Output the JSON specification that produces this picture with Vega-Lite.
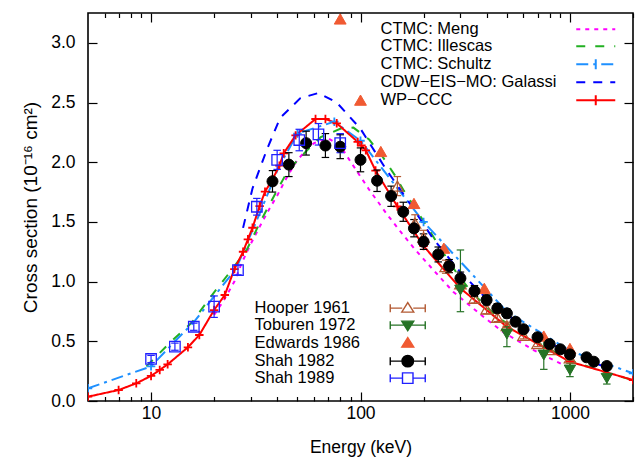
{
  "$schema": "https://vega.github.io/schema/vega-lite/v6.json",
  "width": 545,
  "height": 388,
  "autosize": "none",
  "padding": {"left": 88, "top": 13, "right": 2, "bottom": 60},
  "background": "white",
  "config": {
    "view": {"stroke": "black", "strokeWidth": 1.6},
    "font": "Liberation Sans",
    "axis": {"grid": false, "domain": false, "tickColor": "black", "tickWidth": 1.2, "labelColor": "black", "titleColor": "black", "labelFont": "Liberation Sans", "titleFont": "Liberation Sans", "labelFontSize": 17.5, "titleFontSize": 17.5, "titleFontWeight": "normal", "labelOverlap": false, "labelFlush": false},
    "legend": {"labelFont": "Liberation Sans", "labelFontSize": 16.5, "labelColor": "black", "padding": 0, "labelLimit": 400}
  },
  "datasets": {
    "theory": [
      {"m": "CTMC: Meng", "E": 20, "s": 0.72}, {"m": "CTMC: Meng", "E": 22, "s": 0.83}, {"m": "CTMC: Meng", "E": 25, "s": 1.0}, {"m": "CTMC: Meng", "E": 27, "s": 1.15}, {"m": "CTMC: Meng", "E": 30, "s": 1.32}, {"m": "CTMC: Meng", "E": 33, "s": 1.46}, {"m": "CTMC: Meng", "E": 37, "s": 1.62}, {"m": "CTMC: Meng", "E": 40, "s": 1.72}, {"m": "CTMC: Meng", "E": 45, "s": 1.89}, {"m": "CTMC: Meng", "E": 50, "s": 2.02}, {"m": "CTMC: Meng", "E": 55, "s": 2.1}, {"m": "CTMC: Meng", "E": 60, "s": 2.16}, {"m": "CTMC: Meng", "E": 70, "s": 2.2}, {"m": "CTMC: Meng", "E": 80, "s": 2.14}, {"m": "CTMC: Meng", "E": 90, "s": 2.0}, {"m": "CTMC: Meng", "E": 100, "s": 1.88}, {"m": "CTMC: Meng", "E": 110, "s": 1.77}, {"m": "CTMC: Meng", "E": 133, "s": 1.57}, {"m": "CTMC: Meng", "E": 155, "s": 1.42}, {"m": "CTMC: Meng", "E": 180, "s": 1.28}, {"m": "CTMC: Meng", "E": 222, "s": 1.1}, {"m": "CTMC: Meng", "E": 277, "s": 0.915}, {"m": "CTMC: Meng", "E": 386, "s": 0.706}, {"m": "CTMC: Meng", "E": 482, "s": 0.575}, {"m": "CTMC: Meng", "E": 670, "s": 0.427}, {"m": "CTMC: Meng", "E": 1000, "s": 0.275},
      {"m": "CTMC: Illescas", "E": 9.5, "s": 0.29}, {"m": "CTMC: Illescas", "E": 12.5, "s": 0.5}, {"m": "CTMC: Illescas", "E": 15.7, "s": 0.66}, {"m": "CTMC: Illescas", "E": 20, "s": 0.91}, {"m": "CTMC: Illescas", "E": 24.3, "s": 1.1}, {"m": "CTMC: Illescas", "E": 28.7, "s": 1.27}, {"m": "CTMC: Illescas", "E": 33, "s": 1.49}, {"m": "CTMC: Illescas", "E": 37, "s": 1.655}, {"m": "CTMC: Illescas", "E": 45, "s": 1.93}, {"m": "CTMC: Illescas", "E": 55.6, "s": 2.1}, {"m": "CTMC: Illescas", "E": 64.6, "s": 2.21}, {"m": "CTMC: Illescas", "E": 80, "s": 2.28}, {"m": "CTMC: Illescas", "E": 92.5, "s": 2.29}, {"m": "CTMC: Illescas", "E": 110, "s": 2.19}, {"m": "CTMC: Illescas", "E": 126, "s": 2.06}, {"m": "CTMC: Illescas", "E": 146, "s": 1.89}, {"m": "CTMC: Illescas", "E": 160, "s": 1.77}, {"m": "CTMC: Illescas", "E": 208, "s": 1.46}, {"m": "CTMC: Illescas", "E": 270, "s": 1.14}, {"m": "CTMC: Illescas", "E": 337, "s": 0.915}, {"m": "CTMC: Illescas", "E": 448, "s": 0.706}, {"m": "CTMC: Illescas", "E": 670, "s": 0.51}, {"m": "CTMC: Illescas", "E": 1000, "s": 0.34}, {"m": "CTMC: Illescas", "E": 1500, "s": 0.235}, {"m": "CTMC: Illescas", "E": 2000, "s": 0.175},
      {"m": "CTMC: Schultz", "E": 5, "s": 0.106}, {"m": "CTMC: Schultz", "E": 10, "s": 0.29}, {"m": "CTMC: Schultz", "E": 13, "s": 0.5}, {"m": "CTMC: Schultz", "E": 16, "s": 0.66}, {"m": "CTMC: Schultz", "E": 20.5, "s": 0.9}, {"m": "CTMC: Schultz", "E": 25.5, "s": 1.11}, {"m": "CTMC: Schultz", "E": 33, "s": 1.57}, {"m": "CTMC: Schultz", "E": 40.5, "s": 1.95}, {"m": "CTMC: Schultz", "E": 50, "s": 2.24}, {"m": "CTMC: Schultz", "E": 75, "s": 2.34}, {"m": "CTMC: Schultz", "E": 100, "s": 2.18}, {"m": "CTMC: Schultz", "E": 200, "s": 1.5}, {"m": "CTMC: Schultz", "E": 500, "s": 0.748}, {"m": "CTMC: Schultz", "E": 1000, "s": 0.42}, {"m": "CTMC: Schultz", "E": 2000, "s": 0.232},
      {"m": "CDW−EIS−MO: Galassi", "E": 27.5, "s": 1.45}, {"m": "CDW−EIS−MO: Galassi", "E": 30.5, "s": 1.78}, {"m": "CDW−EIS−MO: Galassi", "E": 35.8, "s": 2.11}, {"m": "CDW−EIS−MO: Galassi", "E": 41.3, "s": 2.37}, {"m": "CDW−EIS−MO: Galassi", "E": 51.5, "s": 2.535}, {"m": "CDW−EIS−MO: Galassi", "E": 63, "s": 2.58}, {"m": "CDW−EIS−MO: Galassi", "E": 77, "s": 2.5}, {"m": "CDW−EIS−MO: Galassi", "E": 100, "s": 2.28}, {"m": "CDW−EIS−MO: Galassi", "E": 133, "s": 1.935}, {"m": "CDW−EIS−MO: Galassi", "E": 155, "s": 1.77}, {"m": "CDW−EIS−MO: Galassi", "E": 172, "s": 1.655}, {"m": "CDW−EIS−MO: Galassi", "E": 222, "s": 1.36}, {"m": "CDW−EIS−MO: Galassi", "E": 294, "s": 1.097}, {"m": "CDW−EIS−MO: Galassi", "E": 404, "s": 0.846}, {"m": "CDW−EIS−MO: Galassi", "E": 696, "s": 0.54}, {"m": "CDW−EIS−MO: Galassi", "E": 1090, "s": 0.37}, {"m": "CDW−EIS−MO: Galassi", "E": 1500, "s": 0.28},
      {"m": "WP−CCC", "E": 5, "s": 0.036}, {"m": "WP−CCC", "E": 7, "s": 0.092}, {"m": "WP−CCC", "E": 8.5, "s": 0.148}, {"m": "WP−CCC", "E": 10, "s": 0.21}, {"m": "WP−CCC", "E": 11, "s": 0.26}, {"m": "WP−CCC", "E": 12, "s": 0.307}, {"m": "WP−CCC", "E": 15, "s": 0.45}, {"m": "WP−CCC", "E": 17, "s": 0.553}, {"m": "WP−CCC", "E": 20, "s": 0.762}, {"m": "WP−CCC", "E": 22.5, "s": 0.888}, {"m": "WP−CCC", "E": 25, "s": 1.105}, {"m": "WP−CCC", "E": 27.5, "s": 1.25}, {"m": "WP−CCC", "E": 29, "s": 1.354}, {"m": "WP−CCC", "E": 30.5, "s": 1.451}, {"m": "WP−CCC", "E": 33, "s": 1.633}, {"m": "WP−CCC", "E": 35, "s": 1.753}, {"m": "WP−CCC", "E": 38, "s": 1.857}, {"m": "WP−CCC", "E": 41, "s": 1.971}, {"m": "WP−CCC", "E": 43, "s": 2.075}, {"m": "WP−CCC", "E": 49, "s": 2.225}, {"m": "WP−CCC", "E": 61, "s": 2.362}, {"m": "WP−CCC", "E": 68, "s": 2.362}, {"m": "WP−CCC", "E": 77, "s": 2.326}, {"m": "WP−CCC", "E": 97, "s": 2.17}, {"m": "WP−CCC", "E": 101, "s": 2.14}, {"m": "WP−CCC", "E": 106, "s": 2.1}, {"m": "WP−CCC", "E": 118, "s": 1.93}, {"m": "WP−CCC", "E": 150, "s": 1.63}, {"m": "WP−CCC", "E": 200, "s": 1.298}, {"m": "WP−CCC", "E": 300, "s": 0.944}, {"m": "WP−CCC", "E": 500, "s": 0.622}, {"m": "WP−CCC", "E": 1000, "s": 0.329}, {"m": "WP−CCC", "E": 2000, "s": 0.176}
    ],
    "exp": [
      {"src": "Hooper 1961", "E": 150, "s": 1.8, "lo": 1.72, "hi": 1.88}, {"src": "Hooper 1961", "E": 182, "s": 1.49, "lo": 1.42, "hi": 1.56}, {"src": "Hooper 1961", "E": 200, "s": 1.37, "lo": 1.31, "hi": 1.43}, {"src": "Hooper 1961", "E": 255, "s": 1.125, "lo": 1.07, "hi": 1.18}, {"src": "Hooper 1961", "E": 300, "s": 0.98, "lo": 0.93, "hi": 1.03}, {"src": "Hooper 1961", "E": 350, "s": 0.86, "lo": 0.82, "hi": 0.9}, {"src": "Hooper 1961", "E": 400, "s": 0.77, "lo": 0.73, "hi": 0.81}, {"src": "Hooper 1961", "E": 450, "s": 0.7, "lo": 0.665, "hi": 0.735}, {"src": "Hooper 1961", "E": 500, "s": 0.63, "lo": 0.6, "hi": 0.66}, {"src": "Hooper 1961", "E": 600, "s": 0.55, "lo": 0.52, "hi": 0.58}, {"src": "Hooper 1961", "E": 700, "s": 0.48, "lo": 0.455, "hi": 0.505}, {"src": "Hooper 1961", "E": 800, "s": 0.43, "lo": 0.41, "hi": 0.45}, {"src": "Hooper 1961", "E": 1000, "s": 0.36, "lo": 0.34, "hi": 0.38},
      {"src": "Toburen 1972", "E": 300, "s": 0.93, "lo": 0.748, "hi": 1.265}, {"src": "Toburen 1972", "E": 500, "s": 0.561, "lo": 0.455, "hi": 0.622}, {"src": "Toburen 1972", "E": 750, "s": 0.385, "lo": 0.265, "hi": 0.511}, {"src": "Toburen 1972", "E": 1000, "s": 0.26, "lo": 0.204, "hi": 0.316}, {"src": "Toburen 1972", "E": 1500, "s": 0.19, "lo": 0.142, "hi": 0.218},
      {"src": "Edwards 1986", "E": 80, "s": 3.2}, {"src": "Edwards 1986", "E": 100, "s": 2.52}, {"src": "Edwards 1986", "E": 125, "s": 2.09}, {"src": "Edwards 1986", "E": 180, "s": 1.655}, {"src": "Edwards 1986", "E": 250, "s": 1.28}, {"src": "Edwards 1986", "E": 390, "s": 0.944}, {"src": "Edwards 1986", "E": 750, "s": 0.544}, {"src": "Edwards 1986", "E": 1000, "s": 0.44},
      {"src": "Shah 1982", "E": 38, "s": 1.84, "lo": 1.75, "hi": 1.93}, {"src": "Shah 1982", "E": 45.5, "s": 1.98, "lo": 1.88, "hi": 2.08}, {"src": "Shah 1982", "E": 55, "s": 2.16, "lo": 2.06, "hi": 2.26}, {"src": "Shah 1982", "E": 68, "s": 2.14, "lo": 2.04, "hi": 2.24}, {"src": "Shah 1982", "E": 80, "s": 2.13, "lo": 2.03, "hi": 2.23}, {"src": "Shah 1982", "E": 100, "s": 2.02, "lo": 1.92, "hi": 2.12}, {"src": "Shah 1982", "E": 120, "s": 1.845, "lo": 1.755, "hi": 1.935}, {"src": "Shah 1982", "E": 140, "s": 1.717, "lo": 1.63, "hi": 1.8}, {"src": "Shah 1982", "E": 160, "s": 1.585, "lo": 1.505, "hi": 1.665}, {"src": "Shah 1982", "E": 180, "s": 1.446, "lo": 1.375, "hi": 1.52}, {"src": "Shah 1982", "E": 200, "s": 1.334, "lo": 1.27, "hi": 1.4}, {"src": "Shah 1982", "E": 235, "s": 1.228, "lo": 1.165, "hi": 1.29}, {"src": "Shah 1982", "E": 265, "s": 1.13, "lo": 1.075, "hi": 1.185}, {"src": "Shah 1982", "E": 300, "s": 1.028, "lo": 0.975, "hi": 1.08}, {"src": "Shah 1982", "E": 350, "s": 0.921, "lo": 0.875, "hi": 0.967}, {"src": "Shah 1982", "E": 400, "s": 0.846, "lo": 0.804, "hi": 0.888}, {"src": "Shah 1982", "E": 450, "s": 0.776, "lo": 0.737, "hi": 0.815}, {"src": "Shah 1982", "E": 500, "s": 0.734, "lo": 0.697, "hi": 0.771}, {"src": "Shah 1982", "E": 550, "s": 0.664, "lo": 0.631, "hi": 0.697}, {"src": "Shah 1982", "E": 600, "s": 0.601, "lo": 0.571, "hi": 0.631}, {"src": "Shah 1982", "E": 700, "s": 0.534, "lo": 0.507, "hi": 0.561}, {"src": "Shah 1982", "E": 800, "s": 0.477, "lo": 0.453, "hi": 0.501}, {"src": "Shah 1982", "E": 900, "s": 0.433, "lo": 0.411, "hi": 0.455}, {"src": "Shah 1982", "E": 1000, "s": 0.39, "lo": 0.37, "hi": 0.41}, {"src": "Shah 1982", "E": 1200, "s": 0.366, "lo": 0.348, "hi": 0.384}, {"src": "Shah 1982", "E": 1300, "s": 0.329, "lo": 0.313, "hi": 0.345}, {"src": "Shah 1982", "E": 1500, "s": 0.293, "lo": 0.278, "hi": 0.308},
      {"src": "Shah 1989", "E": 10, "s": 0.352, "lo": 0.322, "hi": 0.382}, {"src": "Shah 1989", "E": 13, "s": 0.455, "lo": 0.425, "hi": 0.485}, {"src": "Shah 1989", "E": 16, "s": 0.622, "lo": 0.592, "hi": 0.652}, {"src": "Shah 1989", "E": 20, "s": 0.79, "lo": 0.7, "hi": 0.88}, {"src": "Shah 1989", "E": 26, "s": 1.097, "lo": 1.057, "hi": 1.137}, {"src": "Shah 1989", "E": 32, "s": 1.627, "lo": 1.557, "hi": 1.697}, {"src": "Shah 1989", "E": 40, "s": 2.02, "lo": 1.94, "hi": 2.1}, {"src": "Shah 1989", "E": 51, "s": 2.186, "lo": 2.096, "hi": 2.276}, {"src": "Shah 1989", "E": 63, "s": 2.234, "lo": 2.144, "hi": 2.324}, {"src": "Shah 1989", "E": 80, "s": 2.16, "lo": 2.08, "hi": 2.24}
    ]
  },
  "layer": [
    {
      "data": {"name": "theory"},
      "mark": {"type": "line", "strokeWidth": 2, "clip": true},
      "encoding": {
        "x": {"field": "E", "type": "quantitative", "scale": {"type": "log", "domain": [5, 2000], "nice": false},
          "axis": {"orient": "bottom", "title": "Energy (keV)", "values": [6, 7, 8, 9, 10, 20, 30, 40, 50, 60, 70, 80, 90, 100, 200, 300, 400, 500, 600, 700, 800, 900, 1000, 2000], "format": "d",
            "labelExpr": "indexof([10, 100, 1000], datum.value) >= 0 ? datum.label : ''",
            "tickSize": {"condition": {"test": "indexof([10, 100, 1000], datum.value) >= 0", "value": -9}, "value": -4.5},
            "labelPadding": 12, "titlePadding": 12}},
        "y": {"field": "s", "type": "quantitative", "scale": {"domain": [0, 3.25], "nice": false, "zero": false},
          "axis": {"orient": "left", "title": "Cross section (10⁻¹⁶ cm²)", "titleFontSize": 19, "values": [0, 0.5, 1, 1.5, 2, 2.5, 3], "format": ".1f", "tickSize": -9, "labelPadding": 22, "titlePadding": 10}},
        "color": {"field": "m", "type": "nominal",
          "scale": {"domain": ["CTMC: Meng", "CTMC: Illescas", "CTMC: Schultz", "CDW−EIS−MO: Galassi", "WP−CCC"], "range": ["#ff00ff", "#22b022", "#1e90ff", "#0000ff", "#ff0000"]},
          "legend": {"orient": "none", "legendX": 499.5, "legendY": 7.9, "title": null, "symbolSize": 100, "symbolStrokeWidth": 2, "labelOffset": -223.5, "rowPadding": 0,
            "encode": {"symbols": {"update": {"shape": {"signal": "datum.value === 'CTMC: Schultz' || datum.value === 'WP−CCC' ? 'M-3.9,0H3.9M0,-1V1' : 'M-3.9,0H3.9'"}}}}}},
        "strokeDash": {"field": "m", "type": "nominal",
          "scale": {"domain": ["CTMC: Meng", "CTMC: Illescas", "CTMC: Schultz", "CDW−EIS−MO: Galassi", "WP−CCC"], "range": [[4, 5], [9, 10], [12, 5, 3, 5], [9, 8], [1, 0]]}}
      }
    },
    {
      "data": {"name": "theory"},
      "transform": [{"filter": "datum.m === 'WP−CCC' || (datum.m === 'CTMC: Schultz' && indexof([5, 10, 50, 75, 100, 200, 500, 1000, 2000], datum.E) >= 0)"}],
      "mark": {"type": "point", "shape": "M-1,0H1M0,-1V1", "size": 72, "strokeWidth": 1.8, "filled": false, "clip": true, "opacity": 1},
      "encoding": {
        "x": {"field": "E", "type": "quantitative", "scale": {"type": "log", "domain": [5, 2000], "nice": false},
          "axis": {"orient": "top", "title": null, "labels": false, "values": [6, 7, 8, 9, 10, 20, 30, 40, 50, 60, 70, 80, 90, 100, 200, 300, 400, 500, 600, 700, 800, 900, 1000, 2000],
            "tickSize": {"condition": {"test": "indexof([10, 100, 1000], datum.value) >= 0", "value": -9}, "value": -4.5}}},
        "y": {"field": "s", "type": "quantitative", "scale": {"domain": [0, 3.25], "nice": false, "zero": false},
          "axis": {"orient": "right", "title": null, "labels": false, "values": [0, 0.5, 1, 1.5, 2, 2.5, 3], "tickSize": -9}},
        "color": {"field": "m", "type": "nominal"}
      }
    },
    {
      "data": {"name": "exp"},
      "transform": [{"filter": "isValid(datum.lo)"}],
      "mark": {"type": "rule", "strokeWidth": 1.2, "clip": true},
      "encoding": {
        "x": {"field": "E", "type": "quantitative", "scale": {"type": "log", "domain": [5, 2000], "nice": false}, "axis": null},
        "y": {"field": "lo", "type": "quantitative", "scale": {"domain": [0, 3.25], "nice": false, "zero": false}, "axis": null},
        "y2": {"field": "hi"},
        "stroke": {"field": "src", "type": "nominal",
          "scale": {"domain": ["Hooper 1961", "Toburen 1972", "Edwards 1986", "Shah 1982", "Shah 1989"], "range": ["#b35a33", "#267326", "#f05a32", "#000000", "#2020ff"]},
          "legend": {"orient": "none", "legendX": 311.5, "legendY": 286.9, "title": null, "symbolSize": 100, "symbolStrokeWidth": 1.4, "labelOffset": -161.5, "rowPadding": 0,
            "encode": {"symbols": {"update": {
              "shape": {"signal": "datum.value === 'Hooper 1961' ? 'M-3.5,0H-1.1M1.1,0H3.5M-3.5,-0.8V0.8M3.5,-0.8V0.8M-1.2,0.8L0,-1.1L1.2,0.8Z' : datum.value === 'Toburen 1972' ? 'M-3.5,0H3.5M-3.5,-0.8V0.8M3.5,-0.8V0.8M-1.2,-0.8L1.2,-0.8L0,1.1Z' : datum.value === 'Edwards 1986' ? 'M-1.2,0.8L0,-1.1L1.2,0.8Z' : datum.value === 'Shah 1982' ? 'M-3.5,0H3.5M-3.5,-0.8V0.8M3.5,-0.8V0.8M-1.15,0A1.15,1.15,0,1,0,1.15,0A1.15,1.15,0,1,0,-1.15,0Z' : 'M-3.5,0H-1.05M1.05,0H3.5M-3.5,-0.8V0.8M3.5,-0.8V0.8M-1.05,-1.05H1.05V1.05H-1.05Z'"},
              "fill": {"signal": "datum.value === 'Toburen 1972' ? '#267326' : datum.value === 'Edwards 1986' ? '#f05a32' : datum.value === 'Shah 1982' ? '#000000' : 'transparent'"},
              "stroke": {"signal": "datum.value === 'Hooper 1961' ? '#b35a33' : datum.value === 'Toburen 1972' ? '#267326' : datum.value === 'Edwards 1986' ? '#f05a32' : datum.value === 'Shah 1982' ? '#000000' : '#2020ff'"}
            }}}}}
      }
    },
    {
      "data": {"name": "exp"},
      "transform": [{"filter": "isValid(datum.lo)"}],
      "mark": {"type": "point", "shape": "M-1,0H1", "size": 56, "strokeWidth": 1.2, "filled": false, "opacity": 1, "clip": true},
      "encoding": {
        "x": {"field": "E", "type": "quantitative", "scale": {"type": "log", "domain": [5, 2000], "nice": false}, "axis": null},
        "y": {"field": "lo", "type": "quantitative", "scale": {"domain": [0, 3.25], "nice": false, "zero": false}, "axis": null},
        "stroke": {"field": "src", "type": "nominal", "legend": null}
      }
    },
    {
      "data": {"name": "exp"},
      "transform": [{"filter": "isValid(datum.hi)"}],
      "mark": {"type": "point", "shape": "M-1,0H1", "size": 56, "strokeWidth": 1.2, "filled": false, "opacity": 1, "clip": true},
      "encoding": {
        "x": {"field": "E", "type": "quantitative", "scale": {"type": "log", "domain": [5, 2000], "nice": false}, "axis": null},
        "y": {"field": "hi", "type": "quantitative", "scale": {"domain": [0, 3.25], "nice": false, "zero": false}, "axis": null},
        "stroke": {"field": "src", "type": "nominal", "legend": null}
      }
    },
    {
      "data": {"name": "exp"},
      "transform": [{"filter": "datum.src === 'Hooper 1961'"}],
      "mark": {"type": "point", "shape": "triangle-up", "size": 130, "strokeWidth": 1.3, "filled": false, "opacity": 1, "clip": true},
      "encoding": {
        "x": {"field": "E", "type": "quantitative", "scale": {"type": "log", "domain": [5, 2000], "nice": false}, "axis": null},
        "y": {"field": "s", "type": "quantitative", "scale": {"domain": [0, 3.25], "nice": false, "zero": false}, "axis": null},
        "stroke": {"field": "src", "type": "nominal", "legend": null}
      }
    },
    {
      "data": {"name": "exp"},
      "transform": [{"filter": "datum.src === 'Toburen 1972'"}],
      "mark": {"type": "point", "shape": "triangle-down", "size": 130, "strokeWidth": 1, "filled": true, "fill": "#267326", "opacity": 1, "clip": true},
      "encoding": {
        "x": {"field": "E", "type": "quantitative", "scale": {"type": "log", "domain": [5, 2000], "nice": false}, "axis": null},
        "y": {"field": "s", "type": "quantitative", "scale": {"domain": [0, 3.25], "nice": false, "zero": false}, "axis": null},
        "stroke": {"field": "src", "type": "nominal", "legend": null}
      }
    },
    {
      "data": {"name": "exp"},
      "transform": [{"filter": "datum.src === 'Edwards 1986'"}],
      "mark": {"type": "point", "shape": "triangle-up", "size": 140, "strokeWidth": 1, "filled": true, "fill": "#f05a32", "opacity": 1, "clip": true},
      "encoding": {
        "x": {"field": "E", "type": "quantitative", "scale": {"type": "log", "domain": [5, 2000], "nice": false}, "axis": null},
        "y": {"field": "s", "type": "quantitative", "scale": {"domain": [0, 3.25], "nice": false, "zero": false}, "axis": null},
        "stroke": {"field": "src", "type": "nominal", "legend": null}
      }
    },
    {
      "data": {"name": "exp"},
      "transform": [{"filter": "datum.src === 'Shah 1982'"}],
      "mark": {"type": "point", "shape": "circle", "size": 121, "strokeWidth": 1, "filled": true, "fill": "#000000", "opacity": 1, "clip": true},
      "encoding": {
        "x": {"field": "E", "type": "quantitative", "scale": {"type": "log", "domain": [5, 2000], "nice": false}, "axis": null},
        "y": {"field": "s", "type": "quantitative", "scale": {"domain": [0, 3.25], "nice": false, "zero": false}, "axis": null},
        "stroke": {"field": "src", "type": "nominal", "legend": null}
      }
    },
    {
      "data": {"name": "exp"},
      "transform": [{"filter": "datum.src === 'Shah 1989'"}],
      "mark": {"type": "point", "shape": "square", "size": 110, "strokeWidth": 1.3, "filled": false, "opacity": 1, "clip": true},
      "encoding": {
        "x": {"field": "E", "type": "quantitative", "scale": {"type": "log", "domain": [5, 2000], "nice": false}, "axis": null},
        "y": {"field": "s", "type": "quantitative", "scale": {"domain": [0, 3.25], "nice": false, "zero": false}, "axis": null},
        "stroke": {"field": "src", "type": "nominal", "legend": null}
      }
    }
  ],
  "resolve": {"axis": {"x": "independent", "y": "independent"}}
}
